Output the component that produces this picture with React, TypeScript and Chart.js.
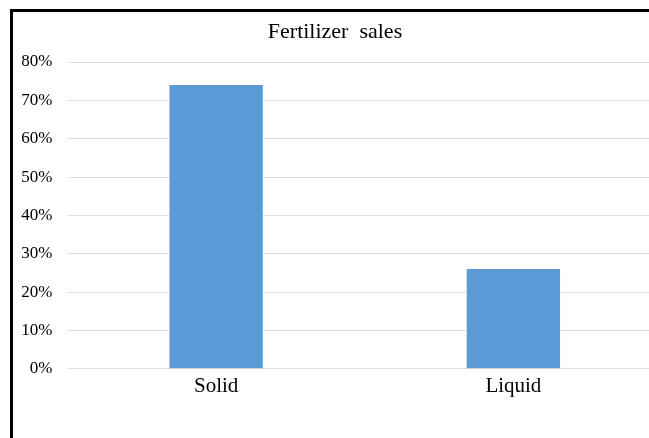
import React, { useEffect, useRef } from "react";
import { Chart, registerables } from "chart.js";

Chart.register(...registerables);

const categories = ["Solid", "Liquid"];
const salesShare = [74, 26];
const yTicks = [0, 10, 20, 30, 40, 50, 60, 70, 80];
const chartTitle = "Fertilizer  sales";

export default function App() {
  const ref = useRef<HTMLCanvasElement | null>(null);

  useEffect(() => {
    if (!ref.current) return;
    const font = "'Liberation Serif', 'Times New Roman', serif";
    const chart = new Chart(ref.current, {
      type: "bar",
      data: {
        labels: categories,
        datasets: [
          {
            label: "Share",
            data: salesShare,
            backgroundColor: "#5b9bd5",
            borderWidth: 0,
            categoryPercentage: 1,
            barPercentage: 0.314,
          },
        ],
      },
      options: {
        animation: false,
        responsive: false,
        devicePixelRatio: 1,
        layout: { padding: { left: 8, right: 0, top: 0, bottom: 34 } },
        plugins: {
          legend: { display: false },
          tooltip: { enabled: false },
          title: {
            display: true,
            text: chartTitle,
            color: "#000",
            font: { family: font, size: 22, weight: "normal", lineHeight: 1.2 },
            padding: { top: 19, bottom: 16.6 },
          },
        },
        scales: {
          x: {
            grid: { display: false, drawTicks: false },
            border: { display: false },
            ticks: {
              color: "#000",
              font: { family: font, size: 21 },
              padding: 5,
              maxRotation: 0,
            },
          },
          y: {
            min: 0,
            max: 80,
            afterBuildTicks: (s: any) => {
              s.ticks = yTicks.map((v) => ({ value: v }));
            },
            afterFit: (s: any) => {
              s.width = 59.5;
            },
            grid: { color: "#dedede", lineWidth: 1, drawTicks: false },
            border: { display: false },
            ticks: {
              color: "#000",
              font: { family: font, size: 17 },
              padding: 15,
              callback: (v: any) => v + "%",
            },
          },
        },
      },
    });
    return () => chart.destroy();
  }, []);

  return (
    <div
      style={{
        position: "fixed",
        left: 0,
        top: 0,
        width: 649,
        height: 438,
        overflow: "hidden",
        background: "#fff",
      }}
    >
      <canvas ref={ref} width={662} height={438} style={{ display: "block" }} />
      <div
        style={{
          position: "absolute",
          left: 10,
          top: 9,
          width: 700,
          height: 500,
          borderTop: "3px solid #000",
          borderLeft: "3px solid #000",
          pointerEvents: "none",
        }}
      />
    </div>
  );
}
